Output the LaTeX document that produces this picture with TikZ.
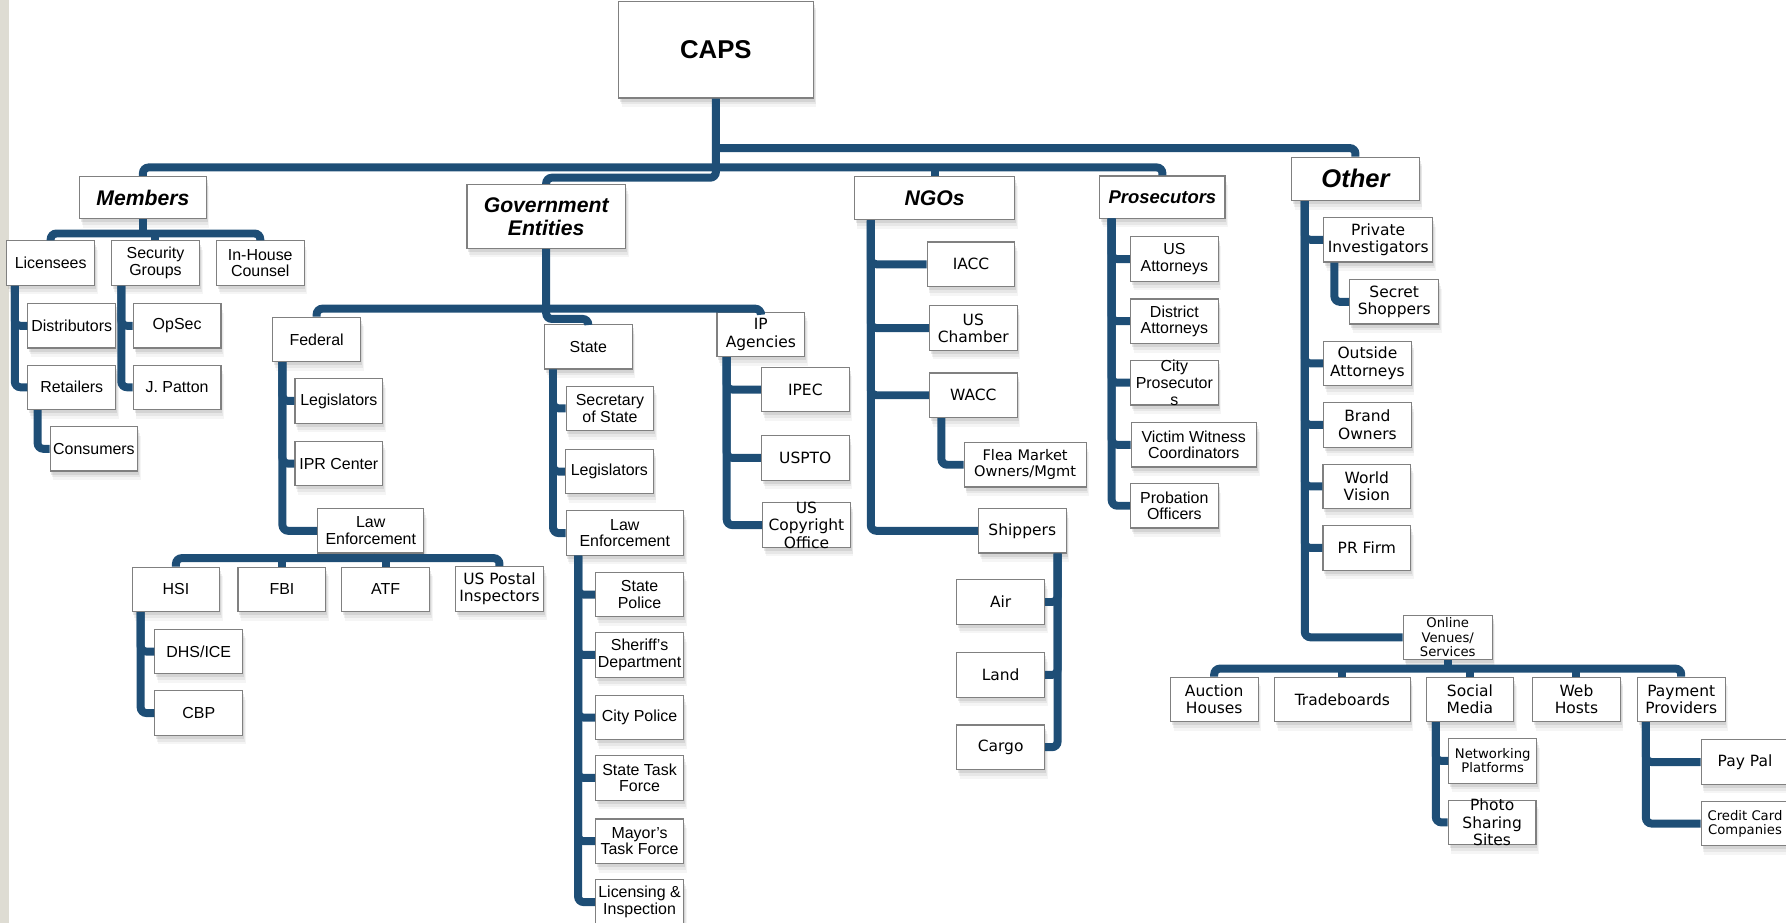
\documentclass[tikz,border=0pt]{standalone}
\usepackage{fontspec}
\setmainfont{Liberation Sans}
\newfontfamily\dejavu{DejaVu Sans}
\usetikzlibrary{shadows}
\definecolor{linkblue}{RGB}{30,78,118}
\definecolor{stripgray}{RGB}{222,220,211}
\newcommand\arfont{\fontsize{7}{7.3}\selectfont}
\newcommand\vdfont{\dejavu\fontsize{6.8}{7.6}\selectfont}
\newcommand\smfont{\dejavu\fontsize{5.8}{6.3}\selectfont}
\newcommand\hdfont[1]{\bfseries\itshape\fontsize{#1}{10}\selectfont}
\tikzstyle{box}=[draw=black!50, line width=0.5pt, fill=white,
    drop shadow={shadow xshift=1.4pt, shadow yshift=-4pt, opacity=0.08},
    drop shadow={shadow xshift=1pt, shadow yshift=-2.8pt, opacity=0.12},
    drop shadow={shadow xshift=0.6pt, shadow yshift=-1.6pt, opacity=0.18},
    minimum width=38.5pt, minimum height=19.5pt, inner xsep=1pt, inner ysep=1pt, align=center, font=\arfont]
\tikzstyle{vbox}=[box, font=\vdfont]
\tikzstyle{sbox}=[box, font=\smfont]
\tikzstyle{link}=[draw=linkblue, line width=3.5pt, rounded corners=2.5pt]

\begin{document}
\begin{tikzpicture}[x=0.5pt,y=-0.5pt]
    \useasboundingbox (0,0) rectangle (1568,810);
    \fill[stripgray] (0,0) rectangle (8,810);

    % 顶层
    \node[box, minimum width=85.5pt, minimum height=42.5pt, font=\bfseries\fontsize{11.3}{12}\selectfont] (caps) at (628.5,43.5) {CAPS};
    \node[box, minimum width=55.5pt, minimum height=18.5pt, font=\hdfont{9.3}] (members) at (125.5,173.5) {Members};
    \node[box, minimum width=69.5pt, minimum height=28pt, font=\hdfont{9.3}] (gov) at (479.5,190) {Government\\Entities};
    \node[box, minimum width=70.5pt, minimum height=19pt, font=\hdfont{9.3}] (ngos) at (820.5,174) {NGOs};
    \node[box, minimum width=55pt, minimum height=18.5pt, font=\hdfont{8.1}] (pros) at (1020.5,173) {Prosecutors};
    \node[box, minimum width=56pt, minimum height=19pt, font=\hdfont{11.2}] (other) at (1190,157) {Other};

    \coordinate (mainbus) at (628.5,147);
    \coordinate (topbus) at (628.5,130);
    \coordinate (govbend) at (628.5,156);
    \draw[link] (caps.south) -- (govbend) -| (gov.north);
    \draw[link] (members.north) |- (mainbus) -| (pros.north);
    \draw[link] (ngos.north) -- (ngos.north |- mainbus);
    \draw[link] (topbus) -| (other.north);

    % Members
    \node[box] (lic) at (44.5,231) {Licensees};
    \node[box, font=\fontsize{7}{6}\selectfont] (secgrp) at (136.5,231) {Security\\Groups};
    \node[box] (inhouse) at (228.5,231) {In-House\\Counsel};
    \node[box] (distrib) at (63,286) {Distributors};
    \node[box] (retail) at (63,340) {Retailers};
    \node[box] (consum) at (82.5,394) {Consumers};
    \node[box] (opsec) at (155.5,286) {OpSec};
    \node[box] (patton) at (155.5,340) {J. Patton};

    \coordinate (membar) at (125.5,205);
    \draw[link] (lic.north) |- (membar) -| (inhouse.north);
    \draw[link] (members.south) -- (membar);
    \draw[link] (secgrp.north) -- (secgrp.north |- membar);
    \draw[link] ([xshift=3.75pt]lic.south west) |- (distrib.west);
    \draw[link] ([xshift=3.75pt]lic.south west) |- (retail.west);
    \draw[link] ([xshift=4.5pt]retail.south west) |- (consum.west);
    \draw[link] ([xshift=4.5pt]secgrp.south west) |- (opsec.west);
    \draw[link] ([xshift=4.5pt]secgrp.south west) |- (patton.west);

    % Government Entities
    \node[box] (federal) at (278,298) {Federal};
    \node[box] (state) at (516.5,304.5) {State};
    \node[vbox] (ipag) at (668,293.5) {IP\\Agencies};

    \coordinate (govbar) at (479.5,271);
    \coordinate (statebend) at (479.5,280);
    \draw[link] (federal.north) |- (govbar) -| (ipag.north);
    \draw[link] (gov.south) -- (statebend) -| (state.north);

    % Federal
    \node[box] (fedleg) at (297.5,352) {Legislators};
    \node[box] (iprc) at (297.5,407) {IPR Center};
    \node[box, minimum width=46.5pt] (fedlaw) at (325.5,466) {Law\\Enforcement};
    \node[box] (hsi) at (154.5,517.5) {HSI};
    \node[box] (fbi) at (247.5,517.5) {FBI};
    \node[box] (atf) at (338.5,517.5) {ATF};
    \node[vbox] (usps) at (438.5,517) {US Postal\\Inspectors};
    \node[box] (dhsice) at (174.5,572) {DHS/ICE};
    \node[box] (cbp) at (174.5,626) {CBP};

    \draw[link] ([xshift=4.5pt]federal.south west) |- (fedleg.west);
    \draw[link] ([xshift=4.5pt]federal.south west) |- (iprc.west);
    \draw[link] ([xshift=4.5pt]federal.south west) |- (fedlaw.west);
    \coordinate (lawbar) at (325.5,490);
    \draw[link] (hsi.north) |- (lawbar) -| (usps.north);
    \draw[link] (fedlaw.south) -- (lawbar);
    \draw[link] (fbi.north) -- (fbi.north |- lawbar);
    \draw[link] (atf.north) -- (atf.north |- lawbar);
    \draw[link] ([xshift=4pt]hsi.south west) |- (dhsice.west);
    \draw[link] ([xshift=4pt]hsi.south west) |- (cbp.west);

    % State
    \node[box] (sos) at (535.5,358.5) {Secretary\\of State};
    \node[box] (stleg) at (535,414) {Legislators};
    \node[box, minimum width=51.5pt] (stlaw) at (548.5,468) {Law\\Enforcement};
    \node[box] (stpol) at (561.5,522) {State\\Police};
    \node[box] (sheriff) at (561.5,575) {Sheriff's\\Department};
    \node[box] (citypol) at (561.5,630) {City Police};
    \node[box] (sttask) at (561.5,683) {State Task\\Force};
    \node[box] (mayor) at (561.5,738.5) {Mayor's\\Task Force};
    \node[box] (licinsp) at (561.5,792) {Licensing \&\\Inspection};

    \draw[link] ([xshift=4pt]state.south west) |- (sos.west);
    \draw[link] ([xshift=4pt]state.south west) |- (stleg.west);
    \draw[link] ([xshift=4pt]state.south west) |- (stlaw.west);
    \draw[link] ([xshift=5.5pt]stlaw.south west) |- (stpol.west);
    \draw[link] ([xshift=5.5pt]stlaw.south west) |- (sheriff.west);
    \draw[link] ([xshift=5.5pt]stlaw.south west) |- (citypol.west);
    \draw[link] ([xshift=5.5pt]stlaw.south west) |- (sttask.west);
    \draw[link] ([xshift=5.5pt]stlaw.south west) |- (mayor.west);
    \draw[link] ([xshift=5.5pt]stlaw.south west) |- (licinsp.west);

    % IP Agencies
    \node[vbox] (ipec) at (707,342) {IPEC};
    \node[vbox] (uspto) at (707,402) {USPTO};
    \node[vbox, inner ysep=-1.5pt] (copyr) at (708,461) {US\\Copyright\\Office};

    \draw[link] ([xshift=4.5pt]ipag.south west) |- (ipec.west);
    \draw[link] ([xshift=4.5pt]ipag.south west) |- (uspto.west);
    \draw[link] ([xshift=4.5pt]ipag.south west) |- (copyr.west);

    % NGOs
    \node[vbox] (iacc) at (852.5,232) {IACC};
    \node[vbox] (uscham) at (854.5,288) {US\\Chamber};
    \node[vbox] (wacc) at (854.5,347) {WACC};
    \node[box, minimum width=53.5pt, font=\dejavu\fontsize{6.4}{7.2}\selectfont] (flea) at (900,408) {Flea Market\\Owners/Mgmt};
    \node[vbox] (ship) at (897.5,466) {Shippers};
    \node[vbox] (air) at (878.5,528.5) {Air};
    \node[vbox] (land) at (878.5,592.5) {Land};
    \node[vbox] (cargo) at (878.5,656) {Cargo};

    \draw[link] ([xshift=7.5pt]ngos.south west) |- (iacc.west);
    \draw[link] ([xshift=7.5pt]ngos.south west) |- (uscham.west);
    \draw[link] ([xshift=7.5pt]ngos.south west) |- (wacc.west);
    \draw[link] ([xshift=7.5pt]ngos.south west) |- (ship.west);
    \draw[link] ([xshift=5.5pt]wacc.south west) |- (flea.west);
    \draw[link] ([xshift=-4pt]ship.south east) |- (air.east);
    \draw[link] ([xshift=-4pt]ship.south east) |- (land.east);
    \draw[link] ([xshift=-4pt]ship.south east) |- (cargo.east);

    % Prosecutors
    \node[box] (usatt) at (1031,227.5) {US\\Attorneys};
    \node[box] (distatt) at (1031,282) {District\\Attorneys};
    \node[box, inner ysep=-1pt] (cityprs) at (1031,336) {City\\Prosecutor\\s};
    \node[box, minimum width=55pt] (victim) at (1048,390.5) {Victim Witness\\Coordinators};
    \node[box] (probat) at (1031,444) {Probation\\Officers};

    \draw[link] ([xshift=5.5pt]pros.south west) |- (usatt.west);
    \draw[link] ([xshift=5.5pt]pros.south west) |- (distatt.west);
    \draw[link] ([xshift=5.5pt]pros.south west) |- (cityprs.west);
    \draw[link] ([xshift=5.5pt]pros.south west) |- (victim.west);
    \draw[link] ([xshift=5.5pt]pros.south west) |- (probat.west);

    % Other
    \node[vbox, minimum width=48pt] (privinv) at (1210,210.5) {Private\\Investigators};
    \node[vbox, minimum width=39pt] (secret) at (1224,265) {Secret\\Shoppers};
    \node[vbox] (outatt) at (1200.5,319) {Outside\\Attorneys};
    \node[vbox] (brand) at (1200.5,373) {Brand\\Owners};
    \node[vbox] (wvision) at (1200,427) {World\\Vision};
    \node[vbox] (prfirm) at (1200,481) {PR Firm};
    \node[sbox, minimum width=39pt] (online) at (1271,559.5) {Online\\Venues/\\Services};

    \draw[link] ([xshift=6pt]other.south west) |- (privinv.west);
    \draw[link] ([xshift=6pt]other.south west) |- (outatt.west);
    \draw[link] ([xshift=6pt]other.south west) |- (brand.west);
    \draw[link] ([xshift=6pt]other.south west) |- (wvision.west);
    \draw[link] ([xshift=6pt]other.south west) |- (prfirm.west);
    \draw[link] ([xshift=6pt]other.south west) |- (online.west);
    \draw[link] ([xshift=5pt]privinv.south west) |- (secret.west);

    % Online Venues/Services
    \node[vbox] (auction) at (1066,614) {Auction\\Houses};
    \node[vbox, minimum width=59.5pt] (trade) at (1178.5,614) {Tradeboards};
    \node[vbox] (social) at (1290.5,614) {Social\\Media};
    \node[vbox] (webh) at (1384,614) {Web\\Hosts};
    \node[vbox] (payprov) at (1476,614) {Payment\\Providers};
    \node[sbox] (netplat) at (1310.5,668) {Networking\\Platforms};
    \node[vbox, inner ysep=-1.5pt] (photo) at (1310,722) {Photo\\Sharing\\Sites};
    \node[vbox] (paypal) at (1532,669) {Pay Pal};
    \node[sbox] (credit) at (1532,723) {Credit Card\\Companies};

    \coordinate (onbar) at (1271,587);
    \draw[link] (auction.north) |- (onbar) -| (payprov.north);
    \draw[link] (online.south) -- (onbar);
    \draw[link] (trade.north) -- (trade.north |- onbar);
    \draw[link] (social.north) -- (social.north |- onbar);
    \draw[link] (webh.north) -- (webh.north |- onbar);
    \draw[link] ([xshift=4.5pt]social.south west) |- (netplat.west);
    \draw[link] ([xshift=4.5pt]social.south west) |- (photo.west);
    \draw[link] ([xshift=4pt]payprov.south west) |- (paypal.west);
    \draw[link] ([xshift=4pt]payprov.south west) |- (credit.west);
\end{tikzpicture}
\end{document}
